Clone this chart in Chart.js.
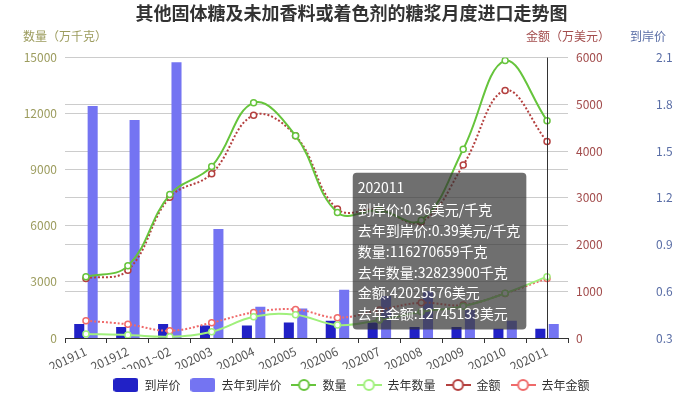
<!DOCTYPE html>
<html lang="zh-CN">

<head>
    <meta charset="UTF-8">
    <title>其他固体糖及未加香料或着色剂的糖浆月度进口走势图</title>
    <style>
        html, body {
            margin: 0;
            padding: 0;
            background: #fff;
        }

        #chartBox {
            width: 683px;
            height: 397px;
        }
    </style>
    <script src="https://cdn.jsdelivr.net/npm/chart.js"></script>
</head>

<body>
    <div id="chartBox"><canvas id="chart1"></canvas></div>
    <script>
        // Months on the x axis
        const months = ['201911', '201912', '202001~02', '202003', '202004', '202005',
            '202006', '202007', '202008', '202009', '202010', '202011'];

        // 到岸价 (美元/千克)
        const price = [0.39, 0.37, 0.39, 0.38, 0.38, 0.40, 0.41, 0.40, 0.37, 0.37, 0.36, 0.36];
        const lastPrice = [1.79, 1.70, 2.07, 1.00, 0.50, 0.49, 0.61, 0.57, 0.60, 0.48, 0.41, 0.39];

        // 数量 (万千克)
        const qty = [3270, 3860, 7670, 9180, 12580, 10820, 6720, 6830, 6300, 10100, 14840, 11627.0659];
        const lastQty = [213, 160, 70, 336, 1137, 1244, 694, 960, 1400, 1700, 2390, 3282.39];

        // 金额 (万美元)
        const amount = [1275, 1452, 3011, 3517, 4768, 4328, 2760, 2748, 2484, 3700, 5295, 4202.5576];
        const lastAmount = [370, 292, 156, 327, 548, 612, 434, 598, 754, 705, 954, 1274.5133];

        // Axis ranges / ticks
        const qtyTicks = { min: 0, max: 15000, step: 3000 };
        const amountTicks = { min: 0, max: 6000, step: 1000 };
        const priceTicks = { min: 0.3, max: 2.1, step: 0.3 };

        const FONT = "'Noto Sans CJK SC', 'Noto Sans', sans-serif";
        const C = {
            price: '#2121c6',
            lastPrice: '#7474f2',
            qty: '#66c43c',
            lastQty: '#a0f07c',
            amount: '#b4403f',
            lastAmount: '#ef6a6a',
            qtyAxis: '#9c9c5e',
            amountAxis: '#a24c4c',
            priceAxis: '#5a6ea6'
        };

        // small legend icons like the original (rounded box / line with ring)
        function makeIcon(type, color) {
            const c = document.createElement('canvas');
            c.width = 25;
            c.height = 14;
            const g = c.getContext('2d');
            if (type === 'bar') {
                g.fillStyle = color;
                g.beginPath();
                g.roundRect(0, 0, 25, 14, 3);
                g.fill();
            } else {
                g.strokeStyle = color;
                g.lineWidth = 2;
                g.beginPath();
                g.moveTo(0, 7);
                g.lineTo(25, 7);
                g.stroke();
                g.fillStyle = '#fff';
                g.beginPath();
                g.arc(12.5, 7, 5, 0, Math.PI * 2);
                g.fill();
                g.stroke();
            }
            return c;
        }

        // tooltip sits to the left of the hovered month
        Chart.Tooltip.positioners.leftOfPoint = function (items) {
            if (!items.length) return false;
            const a = this.chart.chartArea;
            return {
                x: items[0].element.x - 14,
                y: a.top + (a.bottom - a.top) * 0.69,
                xAlign: 'right',
                yAlign: 'center'
            };
        };

        // axis names on top of each y axis + vertical pointer line
        const extras = {
            id: 'extras',
            afterDatasetsDraw(chart) {
                const active = chart.tooltip.getActiveElements();
                if (!active.length) return;
                const x = chart.scales.x.getPixelForValue(active[0].index);
                const ctx = chart.ctx;
                ctx.save();
                ctx.strokeStyle = '#333';
                ctx.lineWidth = 1;
                ctx.beginPath();
                ctx.moveTo(Math.round(x) + 0.5, chart.chartArea.top);
                ctx.lineTo(Math.round(x) + 0.5, chart.chartArea.bottom);
                ctx.stroke();
                ctx.restore();
            },
            afterDraw(chart) {
                const ctx = chart.ctx;
                const top = chart.chartArea.top - 21;
                ctx.save();
                ctx.font = '12px ' + FONT;
                ctx.textAlign = 'center';
                ctx.textBaseline = 'middle';
                ctx.fillStyle = C.qtyAxis;
                ctx.fillText('数量（万千克）', chart.scales.y.right, top);
                ctx.fillStyle = C.amountAxis;
                ctx.fillText('金额（万美元）', chart.scales.y1.left, top);
                ctx.fillStyle = C.priceAxis;
                ctx.fillText('到岸价', chart.scales.y2.left, top);
                ctx.restore();
            }
        };

        const lineBase = {
            type: 'line',
            tension: 0.4,
            borderWidth: 2,
            pointRadius: 3,
            pointBorderWidth: 1.5,
            pointBackgroundColor: '#fff',
            order: 1
        };

        const datasets = [
            { type: 'bar', label: '到岸价', data: price, yAxisID: 'y2', backgroundColor: C.price, order: 2, icon: 'bar' },
            { type: 'bar', label: '去年到岸价', data: lastPrice, yAxisID: 'y2', backgroundColor: C.lastPrice, order: 2, icon: 'bar' },
            { ...lineBase, label: '数量', data: qty, yAxisID: 'y', borderColor: C.qty, pointBorderColor: C.qty, icon: 'line' },
            { ...lineBase, label: '去年数量', data: lastQty, yAxisID: 'y', borderColor: C.lastQty, pointBorderColor: C.lastQty, icon: 'line' },
            { ...lineBase, label: '金额', data: amount, yAxisID: 'y1', borderColor: C.amount, pointBorderColor: C.amount, borderDash: [2, 2], icon: 'line' },
            { ...lineBase, label: '去年金额', data: lastAmount, yAxisID: 'y1', borderColor: C.lastAmount, pointBorderColor: C.lastAmount, borderDash: [2, 2], icon: 'line' }
        ];

        function tipText(ctx) {
            const name = ctx.dataset.label;
            const v = ctx.raw;
            if (ctx.dataset.yAxisID === 'y2') return name + ':' + v.toFixed(2) + '美元/千克';
            if (ctx.dataset.yAxisID === 'y') return name + ':' + Math.round(v * 10000) + '千克';
            return name + ':' + Math.round(v * 10000) + '美元';
        }

        const yGrid = { color: '#cccccc', drawTicks: false };

        const chart = new Chart(document.getElementById('chart1').getContext('2d'), {
            data: { labels: months, datasets: datasets },
            options: {
                responsive: true,
                maintainAspectRatio: false,
                animation: false,
                events: [],
                categoryPercentage: 0.64,
                barPercentage: 0.75,
                layout: { padding: { left: 20, right: 0, top: 0, bottom: -4 } },
                font: { family: FONT, size: 12 },
                plugins: {
                    title: {
                        display: true,
                        text: '其他固体糖及未加香料或着色剂的糖浆月度进口走势图',
                        color: '#333',
                        font: { family: FONT, size: 18, weight: 'bold' },
                        padding: { top: 2, bottom: 34 }
                    },
                    legend: {
                        position: 'bottom',
                        labels: {
                            usePointStyle: true,
                            pointStyleWidth: 25,
                            boxHeight: 14,
                            padding: 10,
                            color: '#333',
                            font: { family: FONT, size: 12 },
                            generateLabels(ch) {
                                return ch.data.datasets.map((d, i) => ({
                                    text: d.label,
                                    fillStyle: d.backgroundColor || d.borderColor,
                                    strokeStyle: d.borderColor || d.backgroundColor,
                                    lineWidth: 0,
                                    pointStyle: makeIcon(d.icon, d.icon === 'bar' ? d.backgroundColor : d.borderColor),
                                    hidden: false,
                                    fontColor: '#333',
                                    datasetIndex: i
                                }));
                            }
                        }
                    },
                    tooltip: {
                        mode: 'index',
                        position: 'leftOfPoint',
                        itemSort: (a, b) => a.datasetIndex - b.datasetIndex,
                        backgroundColor: 'rgba(50,50,50,0.7)',
                        cornerRadius: 4,
                        caretSize: 0,
                        caretPadding: 0,
                        displayColors: false,
                        padding: { top: 7, bottom: 7, left: 5, right: 6 },
                        titleFont: { family: FONT, size: 14, weight: 'normal' },
                        bodyFont: { family: FONT, size: 14 },
                        titleColor: '#fff',
                        bodyColor: '#fff',
                        titleMarginBottom: 5,
                        bodySpacing: 4,
                        callbacks: {
                            title: items => items[0].label,
                            label: tipText
                        }
                    }
                },
                scales: {
                    x: {
                        offset: true,
                        grid: { offset: true, drawOnChartArea: false, color: '#333', tickLength: 5 },
                        border: { color: '#333' },
                        ticks: { autoSkip: false, minRotation: 25, maxRotation: 25, padding: 1, color: '#555', font: { family: FONT, size: 12 } },
                        afterFit(scale) { scale.height = 31; }
                    },
                    y: {
                        position: 'left',
                        min: qtyTicks.min,
                        max: qtyTicks.max,
                        grid: yGrid,
                        border: { display: false },
                        ticks: { stepSize: qtyTicks.step, padding: 8, color: C.qtyAxis, font: { family: FONT, size: 12 }, callback: v => String(v) },
                        afterFit(scale) { scale.width = 45; }
                    },
                    y1: {
                        position: 'right',
                        min: amountTicks.min,
                        max: amountTicks.max,
                        grid: yGrid,
                        border: { display: false },
                        ticks: { stepSize: amountTicks.step, padding: 8, color: C.amountAxis, font: { family: FONT, size: 12 }, callback: v => String(v) },
                        afterFit(scale) { scale.width = 80; }
                    },
                    y2: {
                        position: 'right',
                        min: priceTicks.min,
                        max: priceTicks.max,
                        grid: { drawOnChartArea: false, drawTicks: false },
                        border: { display: false },
                        ticks: { stepSize: priceTicks.step, padding: 8, color: C.priceAxis, font: { family: FONT, size: 12 }, callback: v => Number(v).toFixed(1) },
                        afterFit(scale) { scale.width = 35; }
                    }
                }
            },
            plugins: [extras]
        });

        // show the tooltip for the last month, like the snapshot
        const last = months.length - 1;
        chart.tooltip.setActiveElements(datasets.map((d, i) => ({ datasetIndex: i, index: last })), { x: 0, y: 0 });
        chart.update();
    </script>
</body>

</html>
